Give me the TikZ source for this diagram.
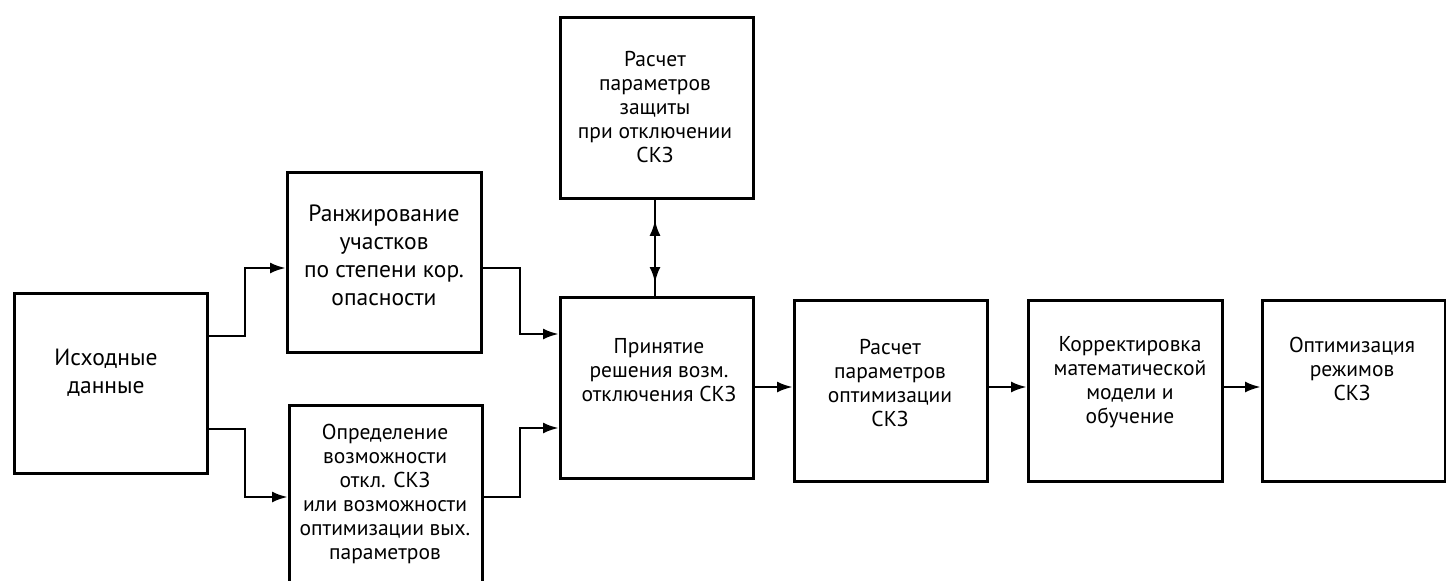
\documentclass[tikz,border=0pt]{standalone}
\usepackage{fontspec}
\setmainfont{PT Sans}
\usetikzlibrary{arrows.meta,calc}
\begin{document}
\begin{tikzpicture}[x=1pt,y=-1pt,
 box/.style={draw, line width=2.8pt, rectangle, anchor=north west, inner sep=0pt},
 txt/.style={align=center, font=\fontsize{21.5}{24}\selectfont, inner sep=0pt},
 bigtxt/.style={align=center, font=\fontsize{23.5}{28}\selectfont, inner sep=0pt},
 conn/.style={line width=2.8pt},
 tip/.tip={Latex[length=16pt,width=11pt]},
 arr/.style={conn, -tip}]
\useasboundingbox (0,0) rectangle (1446,581);
\node[box, minimum width=193pt, minimum height=180pt] (A) at (13,292) {};
\node[box, minimum width=194pt, minimum height=180pt] (B) at (286,171) {};
\node[box, minimum width=193pt, minimum height=200pt] (C) at (288,404) {};
\node[box, minimum width=193pt, minimum height=181pt] (D) at (559,16) {};
\node[box, minimum width=193pt, minimum height=181pt] (E) at (559,296) {};
\node[box, minimum width=193pt, minimum height=181pt] (F) at (793,299) {};
\node[box, minimum width=194pt, minimum height=181pt] (G) at (1027,299) {};
\node[box, minimum width=183pt, minimum height=181pt] (H) at (1261,299) {};

\node[bigtxt] (At) at (106,373) {Исходные\\данные};
\node[bigtxt] (Bt) at (384,255) {Ранжирование\\участков\\по степени кор.\\опасности};
\node[txt] (Ct) at (385,494) {Определение\\возможности\\откл. СКЗ\\или возможности\\оптимизации вых.\\параметров};
\node[txt] (Dt) at (655,107) {Расчет\\параметров\\защиты\\при отключении\\СКЗ};
\node[txt] (Et) at (659,370) {Принятие\\решения возм.\\отключения СКЗ};
\node[txt] (Ft) at (890,383) {Расчет\\параметров\\оптимизации\\СКЗ};
\node[txt] (Gt) at (1130,382) {Корректировка\\математической\\модели и\\обучение};
\node[txt] (Ht) at (1352,369) {Оптимизация\\режимов\\СКЗ};

\draw[arr] (A.east |- 0,336) -- (245,336) |- (B.west |- 0,268);
\draw[arr] (A.east |- 0,429) -- (245,429) |- (C.west |- 0,497);
\draw[arr] (B.east |- 0,268) -- (520,268) |- (E.west |- 0,334);
\draw[arr] (C.east |- 0,497) -- (520,497) |- (E.west |- 0,428);
\draw[conn] (D.south -| 655,0) -- (E.north -| 655,0);
\draw[conn, tip-tip, shorten <=20pt, shorten >=13pt] (D.south -| 655,0) -- (E.north -| 655,0);
\draw[arr] (E.east |- 0,387) -- (F.west |- 0,387);
\draw[arr] (F.east |- 0,387) -- (G.west |- 0,387);
\draw[arr] (G.east |- 0,387) -- (H.west |- 0,387);
\end{tikzpicture}
\end{document}
